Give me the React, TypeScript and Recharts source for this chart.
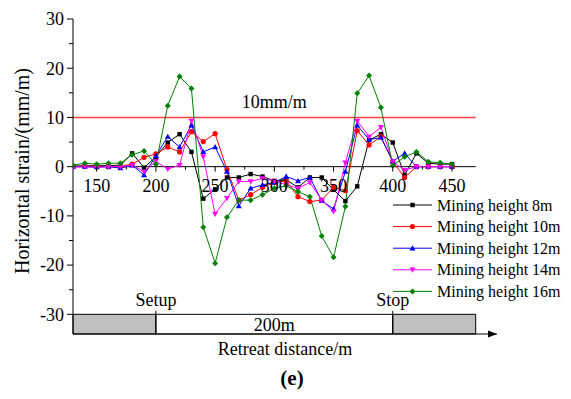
import React from 'react';
import {
  LineChart,
  Line,
  XAxis,
  YAxis,
  ReferenceLine,
  ReferenceArea,
  ReferenceDot,
} from 'recharts';

// retreat distance (m)
const distances = [
  130, 140, 150, 160, 170, 180, 190, 200, 210, 220, 230, 240, 250, 260, 270, 280, 290,
  300, 310, 320, 330, 340, 350, 360, 370, 380, 390, 400, 410, 420, 430, 440, 450,
];

// horizontal strain (mm/m) per mining height
const strain8m = [
  0.1, 0.2, 0.2, 0.2, 0.3, 2.7, -0.2, 2.0, 4.9, 6.6, 3.0, -6.5, -4.6, -2.2, -2.2, -1.5, -2.0,
  -2.9, -2.7, -4.2, -2.2, -2.2, -4.7, -7.0, -4.0, 5.4, 6.6, 4.9, -1.7, 2.7, 0.7, 0.5, 0.5,
];
const strain10m = [
  0, 0.1, 0.1, 0, 0.1, 0.5, 1.9, 2.6, 4.0, 3.0, 7.1, 5.1, 6.7, -0.6, -6.8, -5.7, -4.2,
  -3.2, -2.9, -6.1, -7.1, -6.8, -4.2, -4.9, 7.3, 4.4, 6.1, 1.0, -2.2, 0, 0, 0, 0,
];
const strain12m = [
  0, 0, -0.1, 0, -0.3, 0.3, -1.7, 2.2, 6.1, 4.0, 8.4, 3.0, 4.0, -1.0, -8.0, -4.4, -3.7,
  -3.2, -2.0, -2.9, -2.2, -6.9, -8.6, -1.0, 8.4, 5.5, 5.9, 1.1, 2.7, 0, 0, 0, 0,
];
const strain14m = [
  -0.1, 0, -0.1, 0, 0, 0.3, -1.0, 1.1, -0.5, 0.3, 9.3, 2.0, -9.6, -6.4, -3.0, -3.0, -2.4,
  -2.9, -3.7, -4.4, -3.2, -6.8, -9.1, 0.8, 9.3, 6.1, 8.0, 1.0, -0.7, 0, 0, 0, 0,
];
const strain16m = [
  0.3, 0.7, 0.5, 0.7, 0.7, 2.4, 3.2, 0.5, 12.4, 18.3, 15.9, -12.3, -19.6, -10.3, -6.8, -6.8, -5.7,
  -4.4, -3.9, -5.1, -6.1, -14.1, -18.4, -8.1, 14.9, 18.5, 12.0, 0.2, 2.0, 3.0, 1.0, 0.8, 0.5,
];

const xTicks = [150, 175, 200, 225, 250, 275, 300, 325, 350, 375, 400, 425, 450];
const yTicks = [30, 25, 20, 15, 10, 5, 0, -5, -10, -15, -20, -25, -30];

const seriesNames = [
  'Mining height 8m',
  'Mining height 10m',
  'Mining height 12m',
  'Mining height 14m',
  'Mining height 16m',
];

const table = distances.map((d, i) => ({
  d,
  s8: strain8m[i],
  s10: strain10m[i],
  s12: strain12m[i],
  s14: strain14m[i],
  s16: strain16m[i],
}));

const series = [
  { key: 's8', name: seriesNames[0], color: '#000000', shape: 'square' },
  { key: 's10', name: seriesNames[1], color: '#ff0000', shape: 'circle' },
  { key: 's12', name: seriesNames[2], color: '#0000ff', shape: 'up' },
  { key: 's14', name: seriesNames[3], color: '#ff00ff', shape: 'down' },
  { key: 's16', name: seriesNames[4], color: '#008000', shape: 'diamond' },
];

const FONT = '"Liberation Serif", "Times New Roman", serif';
const AXIS_X = 73;
const ZERO_Y = 166.6;

function Marker({ cx, cy, color, shape }: any) {
  if (cx == null || cy == null) return null;
  if (shape === 'square') return <rect x={cx - 2.2} y={cy - 2.2} width={4.4} height={4.4} fill={color} />;
  if (shape === 'circle') return <circle cx={cx} cy={cy} r={2.6} fill={color} />;
  if (shape === 'up')
    return <polygon points={`${cx},${cy - 3} ${cx - 3},${cy + 2.2} ${cx + 3},${cy + 2.2}`} fill={color} />;
  if (shape === 'down')
    return <polygon points={`${cx},${cy + 3} ${cx - 3},${cy - 2.2} ${cx + 3},${cy - 2.2}`} fill={color} />;
  return <polygon points={`${cx},${cy - 3} ${cx + 3},${cy} ${cx},${cy + 3} ${cx - 3},${cy}`} fill={color} />;
}

const YTick = ({ y, payload }: any) => {
  const v = payload.value;
  const major = v % 10 === 0;
  return (
    <g>
      <line x1={AXIS_X - (major ? 6 : 4)} x2={AXIS_X} y1={y} y2={y} stroke="#000" />
      {major && (
        <text x={AXIS_X - 9} y={y} dy="0.35em" textAnchor="end" fontSize={18} fontFamily={FONT} fill="#000">
          {v}
        </text>
      )}
    </g>
  );
};

const XTick = ({ x, payload }: any) => {
  const v = payload.value;
  const major = v % 50 === 0;
  return (
    <g>
      <line x1={x} x2={x} y1={ZERO_Y} y2={ZERO_Y + (major ? 5 : 3)} stroke="#000" />
      {major && (
        <text x={x} y={ZERO_Y + 25} textAnchor="middle" fontSize={18} fontFamily={FONT} fill="#000">
          {v}
        </text>
      )}
    </g>
  );
};

const Arrow = ({ cx, cy }: any) => (
  <polygon points={`${cx},${cy} ${cx - 9},${cy - 3.5} ${cx - 9},${cy + 3.5}`} fill="#000" />
);

function LegendBox() {
  return (
    <svg width={180} height={110} style={{ position: 'absolute', left: 390, top: 194 }}>
      {series.map((s, i) => {
        const y = 11 + i * 21.6;
        return (
          <g key={s.key}>
            <line x1={3} x2={42} y1={y} y2={y} stroke={s.color} strokeWidth={1} />
            <Marker cx={22.5} cy={y} color={s.color} shape={s.shape} />
            <text x={47} y={y} dy="0.35em" fontSize={16} fontFamily={FONT} fill="#000">
              {s.name}
            </text>
          </g>
        );
      })}
    </svg>
  );
}

export default function App() {
  return (
    <div style={{ position: 'absolute', left: 0, top: 0, width: 571, height: 399, background: '#fff' }}>
      <LineChart
        width={571}
        height={399}
        data={table}
        margin={{ top: 19, right: 74, bottom: 41, left: 10 }}
      >
        <XAxis
          dataKey="d"
          type="number"
          domain={[130, 488]}
          ticks={xTicks}
          interval={0}
          tickLine={false}
          tick={<XTick />}
          axisLine={{ stroke: '#000' }}
          height={24}
          allowDataOverflow
          label={{
            value: 'Retreat distance/m',
            position: 'insideBottom',
            offset: 3,
            fontSize: 18,
            fontFamily: FONT,
            fill: '#000',
          }}
        />
        <YAxis
          type="number"
          domain={[-34, 30]}
          ticks={yTicks}
          interval={0}
          tickLine={false}
          tick={<YTick />}
          axisLine={{ stroke: '#000' }}
          width={63}
          allowDataOverflow
          label={{
            content: () => (
              <text
                x={22}
                y={171}
                transform="rotate(-90 22 171)"
                textAnchor="middle"
                dy="0.35em"
                fontSize={20}
                fontFamily={FONT}
                fill="#000"
              >
                Horizontal strain/(mm/m)
              </text>
            ),
          }}
        />
        <ReferenceArea x1={130} x2={200} y1={-34} y2={-30} fill="#c0c0c0" fillOpacity={1} stroke="#000" ifOverflow="visible" />
        <ReferenceArea
          x1={200}
          x2={400}
          y1={-34}
          y2={-30}
          fill="#fff"
          fillOpacity={1}
          stroke="#000"
          ifOverflow="visible"
          label={{ value: '200m', position: 'center', fontSize: 18, fontFamily: FONT, fill: '#000' }}
        />
        <ReferenceArea x1={400} x2={470} y1={-34} y2={-30} fill="#c0c0c0" fillOpacity={1} stroke="#000" ifOverflow="visible" />
        <ReferenceLine
          segment={[{ x: 200, y: -34 }, { x: 200, y: -29.3 }]}
          stroke="#000"
          ifOverflow="visible"
          label={{ value: 'Setup', position: 'top', offset: 5, fontSize: 18, fontFamily: FONT, fill: '#000' }}
        />
        <ReferenceLine
          segment={[{ x: 400, y: -34 }, { x: 400, y: -29.3 }]}
          stroke="#000"
          ifOverflow="visible"
          label={{ value: 'Stop', position: 'top', offset: 5, fontSize: 18, fontFamily: FONT, fill: '#000' }}
        />
        <ReferenceLine segment={[{ x: 130, y: 0 }, { x: 470, y: 0 }]} stroke="#000" ifOverflow="visible" />
        <ReferenceLine
          segment={[{ x: 130, y: 10 }, { x: 470, y: 10 }]}
          stroke="#ff4040"
          strokeWidth={1.5}
          ifOverflow="visible"
          label={{ value: '10mm/m', position: 'top', offset: 9, fontSize: 18, fontFamily: FONT, fill: '#000' }}
        />
        <ReferenceDot x={488} y={-34} r={0} ifOverflow="visible" shape={<Arrow />} />
        {series.map((s) => (
          <Line
            key={s.key}
            dataKey={s.key}
            name={s.name}
            stroke={s.color}
            strokeWidth={1}
            isAnimationActive={false}
            dot={(p: any) => <Marker key={`${s.key}-${p.index}`} cx={p.cx} cy={p.cy} color={s.color} shape={s.shape} />}
            activeDot={false}
          />
        ))}
      </LineChart>
      <LegendBox />
      <div
        style={{
          position: 'absolute',
          left: 0,
          width: 571,
          top: 366,
          textAlign: 'center',
          paddingLeft: 13,
          boxSizing: 'border-box',
          fontFamily: FONT,
          fontWeight: 'bold',
          fontSize: 21,
        }}
      >
        (e)
      </div>
    </div>
  );
}
